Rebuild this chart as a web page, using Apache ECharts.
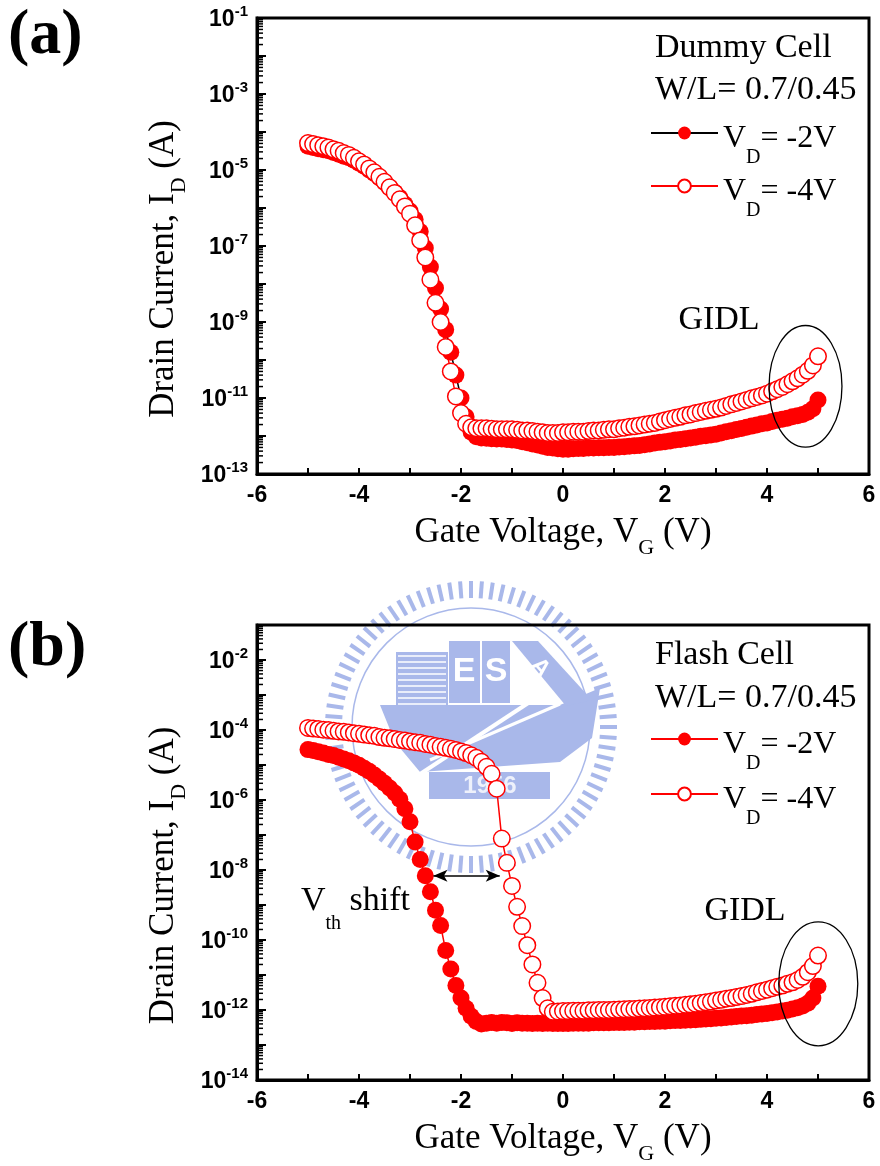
<!DOCTYPE html>
<html>
<head>
<meta charset="utf-8">
<script src="https://cdn.jsdelivr.net/npm/echarts@6/dist/echarts.min.js"></script>
<style>
  html, body { margin: 0; padding: 0; background: #fff; }
  #chart { width: 880px; height: 1166px; }
</style>
</head>
<body>
<div id="chart"></div>
<script>
// Gate voltage sweep (V)
const gateVoltage = [-5,-4.9,-4.8,-4.7,-4.6,-4.5,-4.4,-4.3,-4.2,-4.1,-4,-3.9,-3.8,-3.7,-3.6,-3.5,-3.4,-3.3,-3.2,-3.1,-3,-2.9,-2.8,-2.7,-2.6,-2.5,-2.4,-2.3,-2.2,-2.1,-2,-1.9,-1.8,-1.7,-1.6,-1.5,-1.4,-1.3,-1.2,-1.1,-1,-0.9,-0.8,-0.7,-0.6,-0.5,-0.4,-0.3,-0.2,-0.1,0,0.1,0.2,0.3,0.4,0.5,0.6,0.7,0.8,0.9,1,1.1,1.2,1.3,1.4,1.5,1.6,1.7,1.8,1.9,2,2.1,2.2,2.3,2.4,2.5,2.6,2.7,2.8,2.9,3,3.1,3.2,3.3,3.4,3.5,3.6,3.7,3.8,3.9,4,4.1,4.2,4.3,4.4,4.5,4.6,4.7,4.8,4.9,5];

// Dummy cell drain current (A), VD = -2 V
const dummyVd2 = [4.2e-5,3.9e-5,3.6e-5,3.4e-5,3.2e-5,2.9e-5,2.6e-5,2.3e-5,2.1e-5,1.8e-5,
  1.5e-5,1.26e-5,1.0e-5,8.1e-6,6.3e-6,4.8e-6,3.5e-6,2.6e-6,1.9e-6,1.26e-6,
  8.3e-7,5.0e-7,2.4e-7,8.9e-8,2.8e-8,7.9e-9,2.2e-9,6.3e-10,1.6e-10,4.0e-11,
  1.0e-11,3.2e-12,1.26e-12,9.5e-13,8.9e-13,8.7e-13,8.5e-13,8.3e-13,8.3e-13,8.1e-13,
  7.9e-13,7.6e-13,7.1e-13,6.6e-13,6.2e-13,5.8e-13,5.4e-13,5.0e-13,4.8e-13,4.6e-13,
  4.5e-13,4.5e-13,4.6e-13,4.7e-13,4.7e-13,4.8e-13,4.8e-13,4.9e-13,4.9e-13,5.0e-13,
  5.0e-13,5.1e-13,5.2e-13,5.4e-13,5.5e-13,5.6e-13,5.9e-13,6.2e-13,6.5e-13,6.8e-13,
  7.1e-13,7.4e-13,7.8e-13,8.1e-13,8.5e-13,8.9e-13,9.3e-13,9.8e-13,1.02e-12,1.07e-12,
  1.12e-12,1.2e-12,1.29e-12,1.38e-12,1.48e-12,1.58e-12,1.7e-12,1.82e-12,1.95e-12,2.1e-12,
  2.2e-12,2.4e-12,2.6e-12,2.75e-12,2.95e-12,3.2e-12,3.4e-12,3.7e-12,4.2e-12,5.2e-12,
  8.9e-12];

// Dummy cell drain current (A), VD = -4 V
const dummyVd4 = [5.1e-5,4.8e-5,4.5e-5,4.2e-5,3.9e-5,3.5e-5,3.2e-5,2.8e-5,2.5e-5,2.1e-5,
  1.7e-5,1.4e-5,1.1e-5,8.7e-6,6.6e-6,4.9e-6,3.5e-6,2.5e-6,1.7e-6,1.1e-6,
  7.1e-7,3.5e-7,1.4e-7,5.0e-8,1.3e-8,3.2e-9,1.0e-9,2.2e-10,5.0e-11,1.1e-11,
  4.0e-12,2.1e-12,1.7e-12,1.6e-12,1.6e-12,1.6e-12,1.55e-12,1.5e-12,1.5e-12,1.5e-12,
  1.5e-12,1.45e-12,1.4e-12,1.4e-12,1.35e-12,1.3e-12,1.25e-12,1.2e-12,1.2e-12,1.2e-12,
  1.25e-12,1.25e-12,1.3e-12,1.3e-12,1.3e-12,1.35e-12,1.4e-12,1.4e-12,1.45e-12,1.5e-12,
  1.5e-12,1.6e-12,1.65e-12,1.75e-12,1.8e-12,1.9e-12,2.0e-12,2.1e-12,2.2e-12,2.4e-12,
  2.6e-12,2.8e-12,3.0e-12,3.2e-12,3.5e-12,3.7e-12,4.0e-12,4.3e-12,4.6e-12,4.9e-12,
  5.2e-12,5.6e-12,6.2e-12,6.8e-12,7.4e-12,8.1e-12,8.9e-12,9.8e-12,1.07e-11,1.17e-11,
  1.3e-11,1.5e-11,1.7e-11,1.95e-11,2.3e-11,2.75e-11,3.3e-11,4.1e-11,5.2e-11,7.2e-11,
  1.25e-10];

// Flash cell drain current (A), VD = -2 V
const flashVd2 = [2.75e-5,2.6e-5,2.4e-5,2.2e-5,2.0e-5,1.86e-5,1.66e-5,1.48e-5,1.32e-5,1.15e-5,
  9.8e-6,8.1e-6,6.6e-6,5.2e-6,4.0e-6,3.0e-6,2.2e-6,1.58e-6,1.05e-6,5.6e-7,
  2.4e-7,6.3e-8,2.0e-8,6.8e-9,2.4e-9,7.1e-10,2.6e-10,5.0e-11,1.48e-11,5.0e-12,
  2.2e-12,1.12e-12,6.6e-13,4.7e-13,4.0e-13,4.2e-13,4.4e-13,4.2e-13,4.4e-13,4.3e-13,
  4.1e-13,4.3e-13,4.2e-13,4.2e-13,4.1e-13,4.2e-13,4.1e-13,4.2e-13,4.1e-13,4.1e-13,
  4.1e-13,4.1e-13,4.2e-13,4.2e-13,4.2e-13,4.2e-13,4.3e-13,4.3e-13,4.3e-13,4.3e-13,
  4.4e-13,4.4e-13,4.4e-13,4.5e-13,4.5e-13,4.6e-13,4.6e-13,4.7e-13,4.7e-13,4.8e-13,
  4.8e-13,4.9e-13,5.0e-13,5.0e-13,5.1e-13,5.2e-13,5.3e-13,5.4e-13,5.5e-13,5.6e-13,
  5.8e-13,5.9e-13,6.1e-13,6.3e-13,6.5e-13,6.7e-13,6.9e-13,7.1e-13,7.4e-13,7.7e-13,
  8.0e-13,8.4e-13,8.8e-13,9.3e-13,9.9e-13,1.07e-12,1.16e-12,1.3e-12,1.55e-12,2.2e-12,
  4.8e-12];

// Flash cell drain current (A), VD = -4 V
const flashVd4 = [1.15e-4,1.10e-4,1.07e-4,1.02e-4,1.0e-4,9.5e-5,9.1e-5,8.9e-5,8.5e-5,8.1e-5,
  7.8e-5,7.4e-5,7.1e-5,6.8e-5,6.3e-5,6.0e-5,5.8e-5,5.5e-5,5.2e-5,5.0e-5,
  4.7e-5,4.5e-5,4.3e-5,4.0e-5,3.8e-5,3.5e-5,3.3e-5,3.1e-5,2.9e-5,2.7e-5,
  2.45e-5,2.2e-5,1.9e-5,1.6e-5,1.23e-5,8.9e-6,5.6e-6,2.1e-6,7.9e-8,1.6e-8,
  3.5e-9,8.9e-10,2.5e-10,7.1e-11,2.0e-11,6.0e-12,2.2e-12,1.12e-12,8.9e-13,9.1e-13,
  9.3e-13,9.3e-13,9.5e-13,9.5e-13,9.5e-13,9.8e-13,9.8e-13,1.0e-12,1.0e-12,1.0e-12,
  1.02e-12,1.03e-12,1.05e-12,1.06e-12,1.07e-12,1.1e-12,1.12e-12,1.15e-12,1.17e-12,1.2e-12,
  1.23e-12,1.29e-12,1.32e-12,1.35e-12,1.41e-12,1.45e-12,1.51e-12,1.58e-12,1.66e-12,1.74e-12,
  1.86e-12,1.95e-12,2.1e-12,2.2e-12,2.35e-12,2.5e-12,2.7e-12,2.9e-12,3.2e-12,3.5e-12,
  3.8e-12,4.2e-12,4.6e-12,5.0e-12,5.6e-12,6.2e-12,7.2e-12,8.9e-12,1.2e-11,1.8e-11,
  3.6e-11];

// Axis ranges and labelled decades
const xRange = [-6, 6];
const yRangeDummy = [1e-13, 1e-1];
const yRangeFlash = [1e-14, 1e-1];
const yLabelExpDummy = [-1, -3, -5, -7, -9, -11, -13];
const yLabelExpFlash = [-2, -4, -6, -8, -10, -12, -14];

// Annotation anchors in data space
const gidlDummy = { v: [4.04, 5.47], i: [8.1e-10, 5.1e-13] };
const gidlFlash = { v: [4.23, 5.78], i: [3.3e-10, 9.5e-14] };
const vthArrow = { from: -2.54, to: -1.24, level: 6.8e-9 };

const SERIF = '"Liberation Serif", "Times New Roman", serif';
const SANS = '"Liberation Sans", Arial, sans-serif';
const RED = '#ff0000';

const chart = echarts.init(document.getElementById('chart'), null, { renderer: 'canvas' });

const nameRich = {
  m: { fontFamily: SERIF, fontSize: 35, lineHeight: 35, color: '#000', verticalAlign: 'top' },
  s: { fontFamily: SERIF, fontSize: 22, lineHeight: 22, color: '#000', verticalAlign: 'top', padding: [22, 0, 0, 0] }
};
const legendRich = {
  m: { fontFamily: SERIF, fontSize: 32, lineHeight: 32, color: '#000', verticalAlign: 'top', padding: [6, 0, 0, 0] },
  s: { fontFamily: SERIF, fontSize: 20, lineHeight: 20, color: '#000', verticalAlign: 'top', padding: [31, 0, 0, 0] }
};
const legendText = {
  dummyVd2: '{m|V}{s|D}{m|= -2V}',
  dummyVd4: '{m|V}{s|D}{m|= -4V}',
  flashVd2: '{m|V}{s|D}{m|= -2V}',
  flashVd4: '{m|V}{s|D}{m|= -4V}'
};

// Sub-decade (2..9) positions between the range limits, for minor ticks
function minorTickValues(range) {
  const lo = Math.round(Math.log10(range[0])), hi = Math.round(Math.log10(range[1]));
  const out = [];
  for (let e = lo; e < hi; e++) {
    for (let m = 2; m <= 9; m++) out.push(m * Math.pow(10, e));
  }
  return out;
}

function xAxisFor(gridIndex) {
  return {
    type: 'value', gridIndex, min: xRange[0], max: xRange[1], interval: 2,
    axisLine: { onZero: false, lineStyle: { color: '#000', width: 3 } },
    axisTick: { inside: true, length: 6, lineStyle: { color: '#000', width: 2 } },
    minorTick: { show: true, splitNumber: 2, length: 6, lineStyle: { color: '#000', width: 2 } },
    splitLine: { show: false }, minorSplitLine: { show: false },
    axisLabel: { margin: 10, color: '#000', fontFamily: SANS, fontWeight: 'bold', fontSize: 23, lineHeight: 23 },
    name: '{m|Gate Voltage, V}{s|G}{m| (V)}', nameLocation: 'middle', nameGap: 41,
    nameTextStyle: { rich: nameRich }
  };
}

function yAxisFor(gridIndex, range, labelExps) {
  return {
    type: 'log', logBase: 10, gridIndex, position: 'left', min: range[0], max: range[1], interval: 1,
    axisLine: { onZero: false, lineStyle: { color: '#000', width: 3 } },
    axisTick: { inside: true, length: 9, lineStyle: { color: '#000', width: 2 } },
    splitLine: { show: false },
    axisLabel: {
      margin: 9,
      formatter: (v) => {
        const e = Math.round(Math.log10(v));
        return labelExps.indexOf(e) >= 0 ? '{b|10}{s|' + e + '}' : '';
      },
      rich: {
        b: { fontFamily: SANS, fontWeight: 'bold', fontSize: 23, lineHeight: 27, color: '#000', verticalAlign: 'bottom' },
        s: { fontFamily: SANS, fontWeight: 'bold', fontSize: 15, lineHeight: 15, color: '#000', verticalAlign: 'top' }
      }
    },
    name: '{m|Drain Current, I}{s|D}{m| (A)}', nameLocation: 'middle', nameGap: 57,
    nameTextStyle: { rich: nameRich, padding: [0, 46, 0, 0] }
  };
}

function curve(name, values, xi, yi, filled, lineColor) {
  return {
    name, type: 'line', xAxisIndex: xi, yAxisIndex: yi,
    data: gateVoltage.map((v, i) => [v, values[i]]),
    symbol: 'circle', symbolSize: filled ? 17 : 16.5, showSymbol: true,
    lineStyle: { color: lineColor, width: 1.5 },
    itemStyle: filled ? { color: RED } : { color: '#fff', borderColor: RED, borderWidth: 1.5 },
    emphasis: { disabled: true }, silent: true, z: filled ? 2 : 3
  };
}

function legendFor(names, top, gap) {
  return {
    orient: 'vertical', left: 650, top, padding: 0, itemGap: gap,
    itemWidth: 67, itemHeight: 16, selectedMode: false,
    data: names, formatter: (n) => legendText[n],
    lineStyle: { width: 2 },
    textStyle: { rich: legendRich }
  };
}

function headerText(text, left, top) {
  return { text, left, top, padding: 0,
    textStyle: { fontFamily: SERIF, fontWeight: 'normal', fontSize: 34, lineHeight: 34, color: '#000' } };
}
function panelTag(text, top) {
  return { text, left: 8, top, padding: 0,
    textStyle: { fontFamily: SERIF, fontWeight: 'bold', fontSize: 64, lineHeight: 64, color: '#000' } };
}

const flashVd2Series = curve('flashVd2', flashVd2, 1, 1, true, RED);
flashVd2Series.markLine = {
  silent: true, symbol: ['arrow', 'arrow'], symbolSize: [9, 14], label: { show: false },
  lineStyle: { color: '#000', width: 1.5, type: 'solid' }, emphasis: { disabled: true },
  data: [[{ coord: [vthArrow.from, vthArrow.level] }, { coord: [vthArrow.to, vthArrow.level] }]]
};

chart.setOption({
  animation: false,
  backgroundColor: '#fff',
  title: [
    panelTag('(a)', 4), panelTag('(b)', 616),
    headerText('Dummy Cell', 655, 31), headerText('W/L= 0.7/0.45', 655, 73),
    headerText('Flash Cell', 655, 638), headerText('W/L= 0.7/0.45', 655, 681)
  ],
  legend: [
    legendFor(['dummyVd2', 'dummyVd4'], 117, 2),
    legendFor(['flashVd2', 'flashVd4'], 723, 4)
  ],
  grid: [
    { left: 257, right: 11, top: 18, height: 456, show: true, borderColor: '#000', borderWidth: 3, backgroundColor: 'transparent' },
    { left: 257, right: 11, top: 625, height: 457, show: true, borderColor: '#000', borderWidth: 3, backgroundColor: 'transparent' }
  ],
  xAxis: [xAxisFor(0), xAxisFor(1)],
  yAxis: [
    yAxisFor(0, yRangeDummy, yLabelExpDummy),
    yAxisFor(1, yRangeFlash, yLabelExpFlash)
  ],
  series: [
    curve('dummyVd2', dummyVd2, 0, 0, true, '#000'),
    curve('dummyVd4', dummyVd4, 0, 0, false, RED),
    flashVd2Series,
    curve('flashVd4', flashVd4, 1, 1, false, RED)
  ]
});

// Faint logo behind the lower panel
function logoElements() {
  const cx = 471, cy = 727, blue = '#a9b8ea', els = [];
  for (let k = 0; k < 84; k++) {
    const a = (k / 84) * Math.PI * 2;
    els.push({ type: 'line', z: -5, silent: true,
      shape: { x1: cx + 129 * Math.cos(a), y1: cy + 129 * Math.sin(a), x2: cx + 146 * Math.cos(a), y2: cy + 146 * Math.sin(a) },
      style: { stroke: blue, lineWidth: 4 } });
  }
  els.push({ type: 'circle', z: -5, silent: true, shape: { cx, cy, r: 119 }, style: { fill: 'none', stroke: blue, lineWidth: 1.5 } });
  els.push({ type: 'polygon', z: -5, silent: true,
    shape: { points: [[380, 705], [560, 705], [600, 688], [592, 738], [560, 762], [420, 772], [395, 742]] },
    style: { fill: blue } });
  els.push({ type: 'rect', z: -5, silent: true, shape: { x: 396, y: 652, width: 52, height: 55 }, style: { fill: blue } });
  for (let k = 0; k < 9; k++) {
    els.push({ type: 'line', z: -5, silent: true, shape: { x1: 398, y1: 656 + k * 6, x2: 446, y2: 656 + k * 6 },
      style: { stroke: '#fff', lineWidth: 1.5 } });
  }
  els.push({ type: 'rect', z: -5, silent: true, shape: { x: 449, y: 641, width: 31, height: 62 }, style: { fill: blue } });
  els.push({ type: 'rect', z: -5, silent: true, shape: { x: 482, y: 641, width: 28, height: 62 }, style: { fill: blue } });
  els.push({ type: 'text', z: -4, silent: true, style: { text: 'E', x: 464, y: 672, textAlign: 'center', textVerticalAlign: 'middle',
    font: 'bold 34px ' + SANS, fill: '#fff' } });
  els.push({ type: 'text', z: -4, silent: true, style: { text: 'S', x: 496, y: 672, textAlign: 'center', textVerticalAlign: 'middle',
    font: 'bold 34px ' + SANS, fill: '#fff' } });
  els.push({ type: 'polygon', z: -5, silent: true, shape: { points: [[512, 641], [538, 641], [592, 700], [566, 706]] }, style: { fill: blue } });
  els.push({ type: 'text', z: -4, silent: true, rotation: -0.85, x: 540, y: 668,
    style: { text: 'A', x: 0, y: 0, textAlign: 'center', textVerticalAlign: 'middle', font: 'bold 24px ' + SANS, fill: '#fff' } });
  els.push({ type: 'line', z: -4, silent: true, shape: { x1: 408, x2: 548, y1: 782, y2: 690 }, style: { stroke: '#fff', lineWidth: 4 } });
  els.push({ type: 'line', z: -4, silent: true, shape: { x1: 430, x2: 560, y1: 760, y2: 704 }, style: { stroke: '#fff', lineWidth: 3 } });
  els.push({ type: 'rect', z: -5, silent: true, shape: { x: 429, y: 772, width: 121, height: 27 }, style: { fill: blue } });
  els.push({ type: 'text', z: -4, silent: true, style: { text: '1956', x: 490, y: 786, textAlign: 'center', textVerticalAlign: 'middle',
    font: 'bold 24px ' + SANS, fill: '#eef1fb' } });
  return els;
}

// Helpers that place decorations through the axes' own scales
function px(xi, yi, v, i) { return chart.convertToPixel({ xAxisIndex: xi, yAxisIndex: yi }, [v, i]); }

function minorTicks(xi, yi, range) {
  return minorTickValues(range).map((val) => {
    const p = px(xi, yi, xRange[0], val);
    return { type: 'line', z: 9, silent: true,
      shape: { x1: p[0], y1: p[1], x2: p[0] + 6, y2: p[1] },
      style: { stroke: '#000', lineWidth: 1.5 } };
  });
}

function ellipseFor(xi, yi, region) {
  const p1 = px(xi, yi, region.v[0], region.i[0]);
  const p2 = px(xi, yi, region.v[1], region.i[1]);
  return { type: 'ellipse', z: 10, silent: true,
    shape: { cx: (p1[0] + p2[0]) / 2, cy: (p1[1] + p2[1]) / 2, rx: Math.abs(p2[0] - p1[0]) / 2, ry: Math.abs(p2[1] - p1[1]) / 2 },
    style: { fill: 'none', stroke: '#000', lineWidth: 1.3 } };
}
function plainText(text, x, y) {
  return { type: 'text', z: 10, silent: true,
    style: { text, x, y, textAlign: 'center', textVerticalAlign: 'middle', font: '34px ' + SERIF, fill: '#000' } };
}

chart.setOption({
  graphic: logoElements()
    .concat(minorTicks(0, 0, yRangeDummy))
    .concat(minorTicks(1, 1, yRangeFlash))
    .concat([
      ellipseFor(0, 0, gidlDummy),
      ellipseFor(1, 1, gidlFlash),
      plainText('GIDL', 719, 320),
      plainText('GIDL', 745, 911),
      { type: 'text', z: 10, silent: true,
        style: { text: '{m|V}{s|th}{m| shift}', x: 301, y: 884, textVerticalAlign: 'top',
          rich: {
            m: { fontFamily: SERIF, fontSize: 34, lineHeight: 34, fill: '#000', verticalAlign: 'top' },
            s: { fontFamily: SERIF, fontSize: 20, lineHeight: 20, fill: '#000', verticalAlign: 'top', padding: [30, 0, 0, 0] }
          } } }
    ])
});
</script>
</body>
</html>
